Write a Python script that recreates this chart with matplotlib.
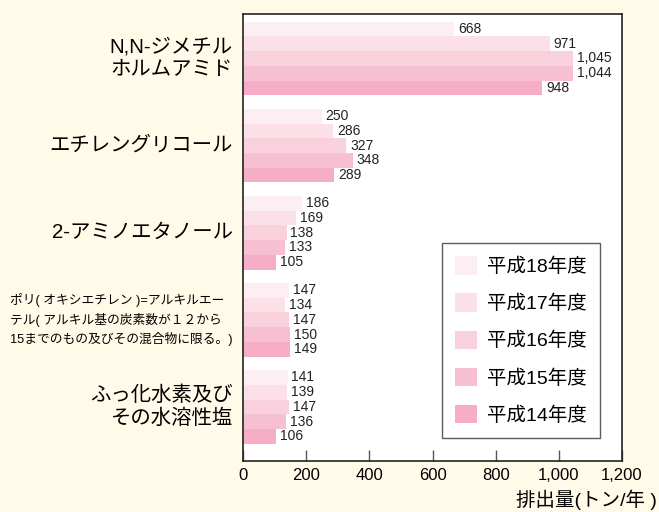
import numpy as np
import matplotlib.pyplot as plt
from matplotlib.ticker import FuncFormatter

plt.rcParams['font.family'] = ['Liberation Sans', 'Noto Sans CJK JP', 'DejaVu Sans']

categories = ['N,N-ジメチル\nホルムアミド',
              'エチレングリコール',
              '2-アミノエタノール',
              'ポリ( オキシエチレン )=アルキルエー\nテル( アルキル基の炭素数が１２から\n15までのもの及びその混合物に限る。)',
              'ふっ化水素及び\nその水溶性塩']
years = ['平成18年度', '平成17年度', '平成16年度', '平成15年度', '平成14年度']
h18 = [668, 250, 186, 147, 141]
h17 = [971, 286, 169, 134, 139]
h16 = [1045, 327, 138, 147, 147]
h15 = [1044, 348, 133, 150, 136]
h14 = [948, 289, 105, 149, 106]
series = [h18, h17, h16, h15, h14]
colors = ['#fdeef3', '#fbe0e7', '#f9d1dd', '#f7c0d2', '#f6aec8']

bg = '#fffbe8'
fig = plt.figure(figsize=(6.59, 5.12), dpi=100, facecolor=bg)
ax = fig.add_axes([0.3687, 0.0996, 0.5752, 0.8731])
ax.set_facecolor('white')

n = len(categories)
bh = 0.169
centers = np.arange(n)
for i, (vals, c, lab) in enumerate(zip(series, colors, years)):
    y = centers + (i - 2) * bh
    ax.barh(y, vals, height=bh, color=c, label=lab, edgecolor='none')
    for yy, v in zip(y, vals):
        ax.text(v + 12, yy, f'{v:,}', va='center', ha='left', fontsize=10, color='#222222')

ax.set_ylim(4.621, -0.511)
ax.set_xlim(0, 1200)
ax.set_xticks(np.arange(0, 1201, 200))
ax.xaxis.set_major_formatter(FuncFormatter(lambda x, p: f'{int(x):,}'))
ax.tick_params(axis='x', direction='in', length=8, width=1, color='#555555', labelsize=12, pad=5)
ax.set_yticks([])
for s in ax.spines.values():
    s.set_linewidth(1.2)
    s.set_color('#222222')

for k, cat in enumerate(categories):
    if k == 3:
        ax.text(-0.027, centers[k], cat, transform=ax.get_yaxis_transform(), ha='right', va='center',
                fontsize=9.2, multialignment='left', linespacing=1.5)
    else:
        ax.text(-0.027, centers[k], cat, transform=ax.get_yaxis_transform(), ha='right', va='center',
                fontsize=14.7, multialignment='right', linespacing=1.2)

leg = ax.legend(loc='lower right', bbox_to_anchor=(0.942, 0.051), borderaxespad=0, fontsize=14,
                frameon=True, fancybox=False, edgecolor='#333333', handlelength=1.1, handleheight=1.1,
                labelspacing=0.88, borderpad=0.7, handletextpad=0.5)
leg.get_frame().set_linewidth(1.0)

fig.text(0.997, 0.004, '排出量(トン/年 )', ha='right', va='bottom', fontsize=14)

fig.savefig('out.png', dpi=100, facecolor=bg)
